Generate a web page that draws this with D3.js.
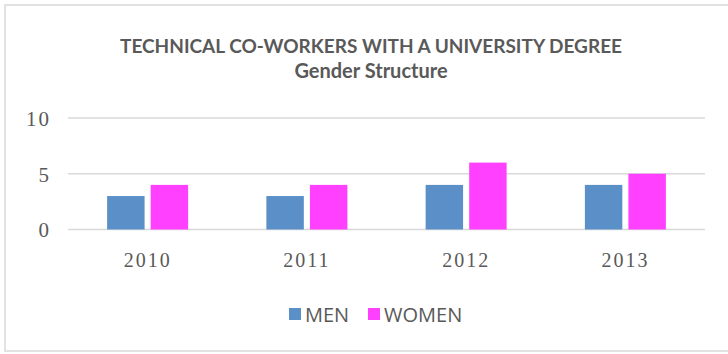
<!DOCTYPE html>
<html>
<body>
    <style>
        body, html {
            margin: 0;
            padding: 0;
            background: #fff;
        }
    </style>

    <svg width="728" height="354"></svg>

    <script src="https://d3js.org/d3.v7.min.js"></script>

    <script>
        var years = ["2010", "2011", "2012", "2013"];
        var series = ["MEN", "WOMEN"];
        var men = [3, 3, 4, 4];
        var women = [4, 4, 6, 5];
        var yTicks = [0, 5, 10];

        var width = 728;
        var height = 354;
        var colors = { MEN: "#5b8fc8", WOMEN: "#ff40ff" };
        var gridColor = "#d9d9d9";
        var textColor = "#595959";

        var svg = d3.select("svg");

        // chart frame
        svg.append("rect")
            .attr("x", 5).attr("y", 5)
            .attr("width", 730).attr("height", 346)
            .attr("fill", "#fff")
            .attr("stroke", "#e2e2e2")
            .attr("stroke-width", 2);

        // titles
        svg.append("text")
            .attr("x", 371).attr("y", 53)
            .attr("text-anchor", "middle")
            .style("font-family", "Lato, 'Open Sans', sans-serif")
            .style("font-weight", "bold")
            .style("font-size", "19px")
            .attr("fill", textColor)
            .text("TECHNICAL CO-WORKERS WITH A UNIVERSITY DEGREE");

        svg.append("text")
            .attr("x", 371).attr("y", 78)
            .attr("text-anchor", "middle")
            .style("font-family", "Lato, 'Open Sans', sans-serif")
            .style("font-weight", "bold")
            .style("font-size", "20px")
            .attr("fill", textColor)
            .text("Gender Structure");

        var x = d3.scaleBand().domain(years).range([68, 705]);
        var x1 = d3.scaleBand().domain(series).range([0, 81]).paddingInner(0.14);
        var y = d3.scaleLinear().domain([0, 10]).range([229.5, 118]);

        // gridlines
        svg.append("g")
            .selectAll("line")
            .data(yTicks)
            .join("line")
            .attr("x1", 68).attr("x2", 705)
            .attr("y1", d => y(d)).attr("y2", d => y(d))
            .attr("stroke", gridColor)
            .attr("stroke-width", 1.5);

        // y axis labels
        var yAxis = svg.append("g")
            .attr("transform", "translate(51,0)")
            .call(d3.axisLeft(y).tickValues(yTicks).tickSize(0).tickPadding(0));
        yAxis.select(".domain").remove();
        yAxis.selectAll("text")
            .style("font-family", "'Liberation Serif', serif")
            .style("font-size", "21px")
            .style("letter-spacing", "2px")
            .attr("fill", textColor)
            .attr("dy", "0.35em");

        // x axis labels
        var xAxis = svg.append("g")
            .attr("transform", "translate(0,252)")
            .call(d3.axisBottom(x).tickSize(0).tickPadding(0));
        xAxis.select(".domain").remove();
        xAxis.selectAll("text")
            .style("font-family", "'Liberation Serif', serif")
            .style("font-size", "20px")
            .style("letter-spacing", "2px")
            .attr("fill", textColor)
            .attr("dy", "0.75em");

        // bars
        var rows = years.map((yr, i) => ({ year: yr, MEN: men[i], WOMEN: women[i] }));

        svg.append("g")
            .selectAll("g")
            .data(rows)
            .join("g")
            .attr("transform", d => "translate(" + (x(d.year) + x.bandwidth() / 2 - 40.5) + ",0)")
            .selectAll("rect")
            .data(d => series.map(s => ({ key: s, value: d[s] })))
            .join("rect")
            .attr("x", d => x1(d.key))
            .attr("width", x1.bandwidth())
            .attr("y", d => y(d.value))
            .attr("height", d => y(0) - y(d.value))
            .attr("fill", d => colors[d.key]);

        // legend
        var legendX = [289, 368];
        var legend = svg.append("g")
            .selectAll("g")
            .data(series)
            .join("g")
            .attr("transform", (d, i) => "translate(" + legendX[i] + ",308)");

        legend.append("rect")
            .attr("width", 12).attr("height", 12)
            .attr("fill", d => colors[d]);

        legend.append("text")
            .attr("x", 16).attr("y", 14)
            .style("font-family", "'Open Sans', sans-serif")
            .style("font-size", "20px")
            .attr("fill", textColor)
            .text(d => d);
    </script>
</body>
</html>
